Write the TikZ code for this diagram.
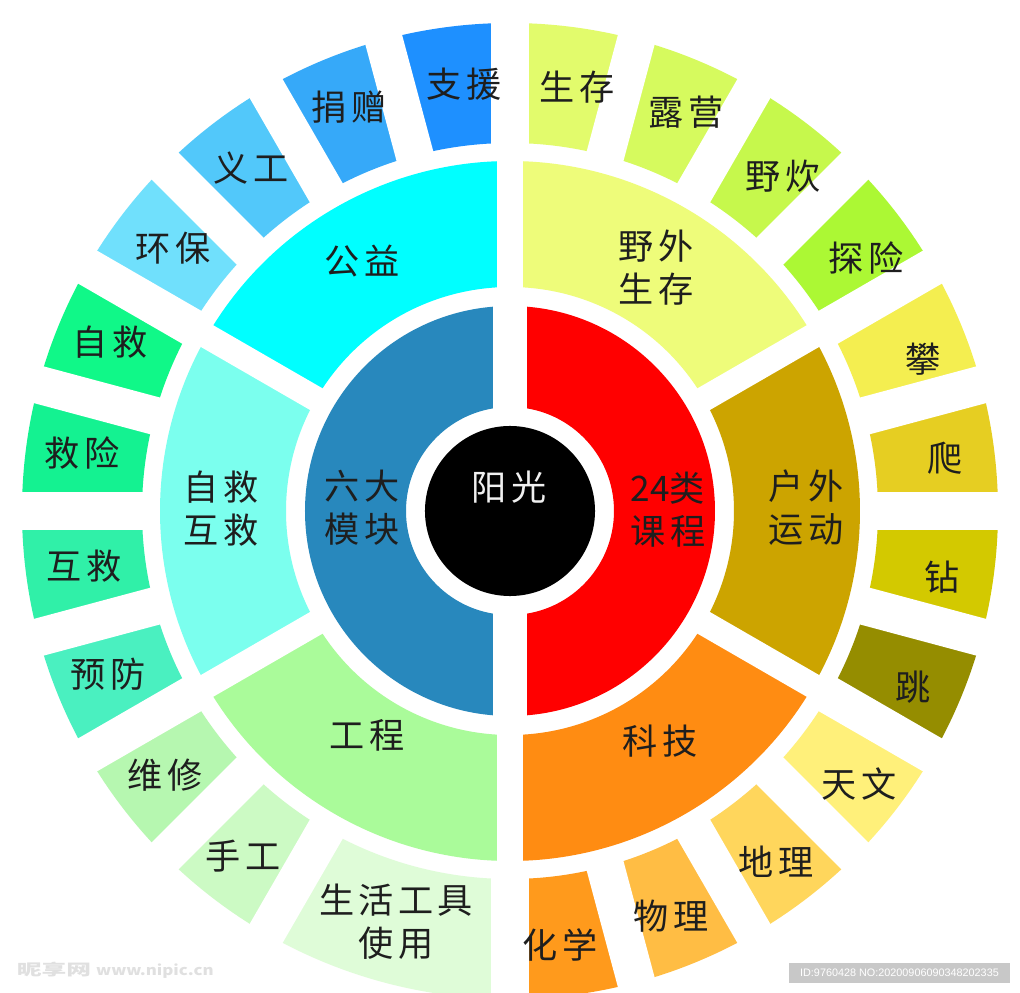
\documentclass[tikz,border=0pt]{standalone}
\usepackage{fontspec}
\usepackage{graphicx}
\setmainfont{Noto Sans CJK SC}[LetterSpace=12]
\newfontfamily\markfont{Noto Sans CJK SC}
\newfontfamily\digitfont{Noto Sans CJK SC}
\newfontfamily\idfont{Liberation Sans}

\definecolor{modblue}{HTML}{2888BD}
\definecolor{courred}{HTML}{FF0000}
\definecolor{gongyi}{HTML}{00FFFF}
\definecolor{rescue}{HTML}{7BFFEE}
\definecolor{engineer}{HTML}{AAFB9A}
\definecolor{wild}{HTML}{EEFC7A}
\definecolor{outdoor}{HTML}{CCA400}
\definecolor{tech}{HTML}{FF8C12}

\definecolor{zhiyuan}{HTML}{1E90FF}
\definecolor{juanzeng}{HTML}{36A9F9}
\definecolor{yigong}{HTML}{52C8FA}
\definecolor{huanbao}{HTML}{70E0FC}
\definecolor{zijiu}{HTML}{10F888}
\definecolor{jiuxian}{HTML}{14F291}
\definecolor{hujiu}{HTML}{30F0A8}
\definecolor{yufang}{HTML}{4AF0C0}
\definecolor{weixiu}{HTML}{B6F7B0}
\definecolor{shougong}{HTML}{CCFAC4}
\definecolor{shenghuo}{HTML}{DFFCD8}
\definecolor{shengcun}{HTML}{E2FB6C}
\definecolor{luying}{HTML}{D6FA5E}
\definecolor{yechui}{HTML}{C6F84C}
\definecolor{tanxian}{HTML}{ACF834}
\definecolor{pan}{HTML}{F4EE50}
\definecolor{pa}{HTML}{E6CE22}
\definecolor{zuan}{HTML}{D3C900}
\definecolor{tiao}{HTML}{958D00}
\definecolor{tianwen}{HTML}{FFF07A}
\definecolor{dili}{HTML}{FFD65C}
\definecolor{wuli}{HTML}{FFBD44}
\definecolor{huaxue}{HTML}{FF9A1C}
\definecolor{labelgray}{HTML}{1E1E1E}
\definecolor{idgray}{HTML}{C8C8C8}

% inner radius, outer radius, start angle, end angle, colour
\newcommand{\ringsector}[5]{%
  \fill[#5] (#3:#1) arc[start angle=#3, end angle=#4, radius=#1]
    -- (#4:#2) arc[start angle=#4, end angle=#3, radius=#2] -- cycle;}

\begin{document}
\begin{tikzpicture}[scale=0.025,
                    tag/.style={font=\fontsize{25}{30.6}\selectfont,
                                text=labelgray, align=center, inner sep=0pt},
                    suntag/.style={tag, text=white!94!black},
                    gapline/.style={draw=white, line cap=butt}]

\clip (-510,-482) rectangle (510,511);
\fill[white] (-510,-482) rectangle (510,511);

\ringsector{104}{205}{90}{270}{modblue}
\ringsector{104}{205}{-90}{90}{courred}

\ringsector{224}{350}{30}{90}{wild}
\ringsector{224}{350}{90}{150}{gongyi}
\ringsector{224}{350}{150}{210}{rescue}
\ringsector{224}{350}{210}{270}{engineer}
\ringsector{224}{350}{270}{330}{tech}
\ringsector{224}{350}{-30}{30}{outdoor}

\ringsector{368}{488}{75}{90}{shengcun}
\ringsector{368}{488}{60}{75}{luying}
\ringsector{368}{488}{45}{60}{yechui}
\ringsector{368}{488}{30}{45}{tanxian}
\ringsector{368}{488}{15}{30}{pan}
\ringsector{368}{488}{0}{15}{pa}
\ringsector{368}{488}{-15}{0}{zuan}
\ringsector{368}{488}{-30}{-15}{tiao}
\ringsector{368}{488}{-45}{-30}{tianwen}
\ringsector{368}{488}{-60}{-45}{dili}
\ringsector{368}{488}{-75}{-60}{wuli}
\ringsector{368}{488}{-90}{-75}{huaxue}

\ringsector{368}{488}{90}{105}{zhiyuan}
\ringsector{368}{488}{105}{120}{juanzeng}
\ringsector{368}{488}{120}{135}{yigong}
\ringsector{368}{488}{135}{150}{huanbao}
\ringsector{368}{488}{150}{165}{zijiu}
\ringsector{368}{488}{165}{180}{jiuxian}
\ringsector{368}{488}{180}{195}{hujiu}
\ringsector{368}{488}{195}{210}{yufang}
\ringsector{368}{488}{210}{225}{weixiu}
\ringsector{368}{488}{225}{240}{shougong}
\ringsector{368}{488}{240}{270}{shenghuo}

\foreach \a in {90,270}
  \draw[gapline, line width=0.825cm] (\a:95) -- (\a:214);
\foreach \a in {30,90,...,330}
  \draw[gapline, line width=0.625cm] (\a:214) -- (\a:359);
\foreach \a in {0,15,...,240}
  \draw[gapline, line width=0.95cm] (\a:359) -- (\a:500);
\foreach \a in {270,285,...,345}
  \draw[gapline, line width=0.95cm] (\a:359) -- (\a:500);

\node[circle, fill=black, inner sep=0pt, minimum size=4.25cm] (hub) at (0,0) {};
\node[suntag] (sun) at (-1,24) {阳光};

\node[tag] (modules) at (-148,3) {六大\\模块};
\node[tag] (courses) at (158,1) {{\digitfont 24}类\\课程};

\node[tag] (gongyi) at (-148,250) {公益};
\node[tag] (rescue) at (-289,2) {自救\\互救};
\node[tag] (engineer) at (-143,-224) {工程};
\node[tag] (wild) at (146,243) {野外\\生存};
\node[tag] (outdoor) at (296,3) {户外\\运动};
\node[tag] (tech) at (150,-230) {科技};

\node[tag] (zhiyuan) at (-46,427) {支援};
\node[tag] (juanzeng) at (-161,404) {捐赠};
\node[tag] (yigong) at (-259,343) {义工};
\node[tag] (huanbao) at (-337,263) {环保};
\node[tag] (zijiu) at (-400,169) {自救};
\node[tag] (jiuxian) at (-428,58) {救险};
\node[tag] (hujiu) at (-426,-55) {互救};
\node[tag] (yufang) at (-402,-163) {预防};
\node[tag] (weixiu) at (-345,-264) {维修};
\node[tag] (shougong) at (-267,-345) {手工};
\node[tag] (shenghuo) at (-114,-411) {生活工具\\使用};

\node[tag] (shengcun) at (67,424) {生存};
\node[tag] (luying) at (176,399) {露营};
\node[tag] (yechui) at (273,335) {野炊};
\node[tag] (tanxian) at (356,253) {探险};
\node[tag] (pan) at (413,152) {攀};
\node[tag] (pa) at (435,53) {爬};
\node[tag] (zuan) at (432,-66) {钻};
\node[tag] (tiao) at (403,-176) {跳};
\node[tag] (tianwen) at (349,-273) {天文};
\node[tag] (dili) at (266,-351) {地理};
\node[tag] (wuli) at (161,-405) {物理};
\node[tag] (huaxue) at (50,-434) {化学};

\node[text=black!12, inner sep=0pt] (mark) at (-456,-459)
  {\scalebox{1.6}[1]{\markfont\bfseries\fontsize{11}{13}\selectfont 昵享网}};
\node[text=black!12, inner sep=0pt] (markweb) at (-355,-460)
  {\scalebox{1.2}[1]{\markfont\bfseries\itshape\fontsize{10}{12}\selectfont www.nipic.cn}};

\node[fill=idgray, text=white, inner sep=0pt, minimum width=5.525cm,
      minimum height=0.5cm, font=\idfont\fontsize{7.7}{9}\selectfont]
  (idbox) at (389.5,-462) {ID:9760428 NO:20200906090348202335};

\end{tikzpicture}
\end{document}
